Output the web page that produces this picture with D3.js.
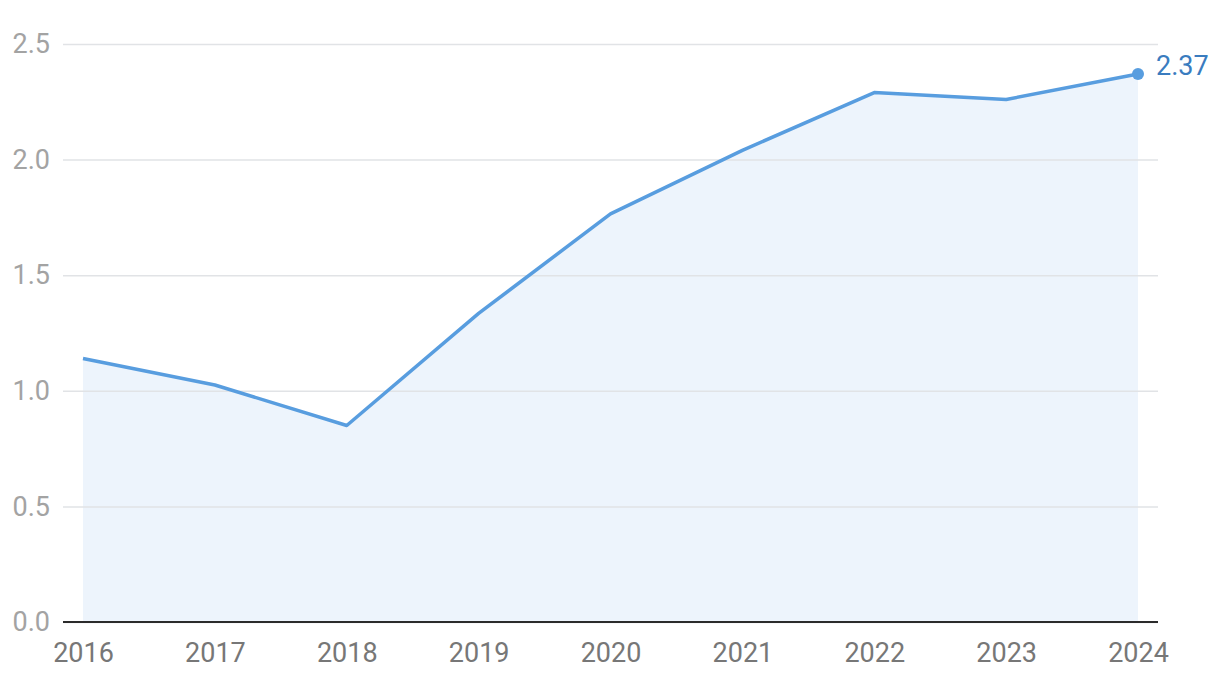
<!DOCTYPE html>
<html>
<head>
<meta charset="utf-8">
<script src="https://cdn.jsdelivr.net/npm/d3@7"></script>
<style>
  body { margin: 0; background: #fff; }
  text { font-family: Roboto, "Noto Sans", sans-serif; }
</style>
</head>
<body>
<div id="vis"></div>
<script>
var margin = { top: 44, right: 62, bottom: 58, left: 63 },
    width = 1220 - margin.left - margin.right,
    height = 680 - margin.top - margin.bottom;

const years = [2016, 2017, 2018, 2019, 2020, 2021, 2022, 2023, 2024];
const values = [1.14, 1.025, 0.85, 1.335, 1.765, 2.04, 2.29, 2.26, 2.37];
const yTicks = [0, 0.5, 1.0, 1.5, 2.0, 2.5];

const data = years.map((y, i) => ({ year: y, value: values[i] }));

const svg = d3.select("#vis")
    .append("svg")
    .attr("width", width + margin.left + margin.right)
    .attr("height", height + margin.top + margin.bottom)
    .append("g")
    .attr("transform", `translate(${margin.left}, ${margin.top})`);

const x = d3.scaleLinear()
    .domain([2016, 2024])
    .range([20, 1075]);

const y = d3.scaleLinear()
    .domain([0, 2.5])
    .range([height, 0]);

// area first, grid on top of it
svg.append("path")
    .datum(data)
    .attr("fill", "#edf4fc")
    .attr("d", d3.area().x(d => x(d.year)).y0(y(0)).y1(d => y(d.value)));

// gridlines + y labels
const yAxis = svg.append("g")
    .call(d3.axisLeft(y).tickValues(yTicks).tickSize(-width).tickFormat(d3.format(".1f")))
    .call(g => g.select(".domain").remove());
yAxis.selectAll(".tick line").attr("stroke", "#e1e3e6").attr("stroke-width", 1.5);
yAxis.selectAll(".tick text")
    .attr("x", -13)
    .attr("fill", "#a3a3a3")
    .style("font-size", "27px");

svg.append("path")
    .datum(data)
    .attr("fill", "none")
    .attr("stroke", "#589ddf")
    .attr("stroke-width", 3.5)
    .attr("stroke-linejoin", "round")
    .attr("d", d3.line().x(d => x(d.year)).y(d => y(d.value)));

// x axis
const xAxis = svg.append("g")
    .attr("transform", `translate(0, ${height})`)
    .call(d3.axisBottom(x).tickValues(years).tickSize(0).tickFormat(d3.format("d")));
xAxis.select(".domain").remove();
xAxis.append("line")
    .attr("x1", 0)
    .attr("x2", width)
    .attr("stroke", "#2b2b2b")
    .attr("stroke-width", 2);
xAxis.selectAll(".tick text")
    .attr("dy", 0)
    .attr("y", 40)
    .attr("fill", "#777")
    .style("font-size", "27px");

// last point
const last = data[data.length - 1];
svg.append("circle")
    .attr("cx", x(last.year))
    .attr("cy", y(last.value))
    .attr("r", 6)
    .attr("fill", "#589ddf");

svg.append("text")
    .attr("x", x(last.year) + 18)
    .attr("y", y(last.value) - 6)
    .attr("dominant-baseline", "middle")
    .attr("fill", "#3a7cbf")
    .style("font-size", "27px")
    .text(last.value.toFixed(2));
</script>
</body>
</html>
